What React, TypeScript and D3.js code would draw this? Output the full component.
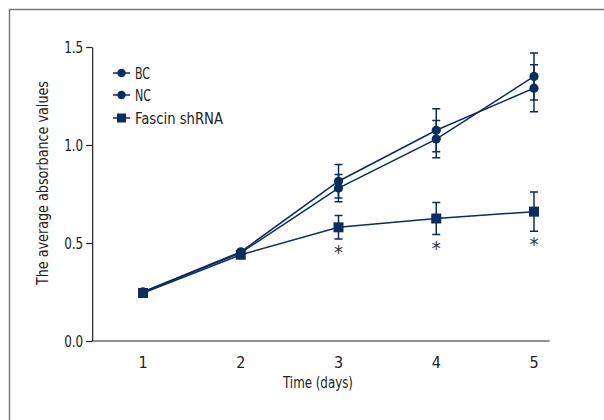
import React, { useEffect, useRef } from 'react';
import * as d3 from 'd3';

// Data
const days = [1, 2, 3, 4, 5];
const bcMean = [0.25, 0.455, 0.815, 1.075, 1.29];
const bcErr = [0, 0, 0.085, 0.11, 0.12];
const ncMean = [0.25, 0.45, 0.78, 1.03, 1.35];
const ncErr = [0, 0, 0.07, 0.095, 0.12];
const shMean = [0.245, 0.44, 0.58, 0.625, 0.66];
const shErr = [0, 0, 0.06, 0.082, 0.1];
const sigDays = [3, 4, 5];
const yTicks = [0, 0.5, 1.0, 1.5];
const legendNames = ['BC', 'NC', 'Fascin shRNA'];
const legendWidths = [15, 16, 88];

const NAVY = '#0b2c5e';
const FONT = "'DejaVu Sans Condensed', 'Liberation Sans', sans-serif";

function App() {
  const chartRef = useRef<HTMLDivElement>(null);

  useEffect(() => {
    document.body.style.margin = '0';
    const width = 604;
    const height = 420;

    d3.select(chartRef.current).select('svg').remove();

    const svg = d3
      .select(chartRef.current)
      .append('svg')
      .attr('width', width)
      .attr('height', height)
      .style('display', 'block')
      .style('background', '#fff');

    // frame (only left and top visible)
    svg.append('path')
      .attr('d', `M9.5,${height} V9.5 H${width}`)
      .attr('fill', 'none')
      .attr('stroke', '#777')
      .attr('stroke-width', 1.5);

    const x = d3.scaleLinear().domain([1, 5]).range([143, 534]);
    const y = d3.scaleLinear().domain([0, 1.5]).range([341, 47]);
    const x0 = x(0.48);
    const x1 = x(5.16);

    // y axis
    const yAxis = svg.append('g')
      .attr('transform', `translate(${x0},0)`)
      .call(d3.axisLeft(y).tickValues(yTicks).tickFormat(d3.format('.1f')).tickSize(6).tickSizeOuter(0));
    yAxis.select('.domain').attr('stroke', '#222').attr('stroke-width', 1.2);
    yAxis.selectAll('.tick line').attr('stroke', '#222').attr('stroke-width', 1.2);
    yAxis.selectAll('.tick text')
      .attr('font-family', FONT)
      .attr('font-size', 16)
      .attr('fill', '#222')
      .attr('x', -9)
      .attr('textLength', 19)
      .attr('lengthAdjust', 'spacingAndGlyphs');

    // x axis (no ticks)
    svg.append('line')
      .attr('x1', x0).attr('x2', x1)
      .attr('y1', y(0)).attr('y2', y(0))
      .attr('stroke', '#222').attr('stroke-width', 1.2);
    svg.append('g').selectAll('text')
      .data(days)
      .join('text')
      .attr('x', (d) => x(d))
      .attr('y', y(0) + 27)
      .attr('text-anchor', 'middle')
      .attr('font-family', FONT)
      .attr('font-size', 16)
      .attr('fill', '#222')
      .text((d) => d);

    // axis titles
    svg.append('text')
      .attr('x', 318)
      .attr('y', 388)
      .attr('text-anchor', 'middle')
      .attr('font-family', FONT)
      .attr('font-size', 16)
      .attr('fill', '#222')
      .attr('textLength', 70)
      .attr('lengthAdjust', 'spacingAndGlyphs')
      .text('Time (days)');
    svg.append('text')
      .attr('transform', `translate(48,183) rotate(-90)`)
      .attr('text-anchor', 'middle')
      .attr('font-family', FONT)
      .attr('font-size', 16)
      .attr('fill', '#222')
      .attr('textLength', 204)
      .attr('lengthAdjust', 'spacingAndGlyphs')
      .text('The average absorbance values');

    const series = [
      { mean: bcMean, err: bcErr, shape: 'circle' },
      { mean: ncMean, err: ncErr, shape: 'circle' },
      { mean: shMean, err: shErr, shape: 'square' },
    ];

    const line = d3.line<number>()
      .x((_, i) => x(days[i]))
      .y((d) => y(d));

    series.forEach((s) => {
      // error bars
      const g = svg.append('g');
      days.forEach((d, i) => {
        if (!s.err[i]) return;
        const cx = x(d);
        const top = y(s.mean[i] + s.err[i]);
        const bot = y(s.mean[i] - s.err[i]);
        g.append('path')
          .attr('d', `M${cx},${top} V${bot} M${cx - 4},${top} H${cx + 4} M${cx - 4},${bot} H${cx + 4}`)
          .attr('stroke', NAVY)
          .attr('stroke-width', 1.5)
          .attr('fill', 'none');
      });

      svg.append('path')
        .datum(s.mean)
        .attr('fill', 'none')
        .attr('stroke', NAVY)
        .attr('stroke-width', 1.5)
        .attr('d', line);

      s.mean.forEach((v, i) => {
        if (s.shape === 'circle') {
          svg.append('circle')
            .attr('cx', x(days[i]))
            .attr('cy', y(v))
            .attr('r', 4.6)
            .attr('fill', NAVY);
        } else {
          svg.append('rect')
            .attr('x', x(days[i]) - 5)
            .attr('y', y(v) - 5)
            .attr('width', 10)
            .attr('height', 10)
            .attr('fill', NAVY);
        }
      });
    });

    // significance asterisks
    svg.append('g').selectAll('text')
      .data(sigDays)
      .join('text')
      .attr('x', (d) => x(d))
      .attr('y', (d) => {
        const i = days.indexOf(d);
        return y(shMean[i] - shErr[i]) + 20;
      })
      .attr('text-anchor', 'middle')
      .attr('font-family', FONT)
      .attr('font-size', 20)
      .attr('fill', '#333')
      .text('*');

    // legend
    const legendY = [73, 95, 118];
    const legend = svg.append('g');
    legendNames.forEach((name, i) => {
      const ly = legendY[i];
      legend.append('line')
        .attr('x1', 113).attr('x2', 130)
        .attr('y1', ly).attr('y2', ly)
        .attr('stroke', NAVY).attr('stroke-width', 1.5);
      if (i < 2) {
        legend.append('circle').attr('cx', 121.5).attr('cy', ly).attr('r', 4.2).attr('fill', NAVY);
      } else {
        legend.append('rect').attr('x', 117).attr('y', ly - 4.5).attr('width', 9).attr('height', 9).attr('fill', NAVY);
      }
      legend.append('text')
        .attr('x', 135)
        .attr('y', ly + 6)
        .attr('font-family', FONT)
        .attr('font-size', 16)
        .attr('fill', '#222')
        .attr('textLength', legendWidths[i])
        .attr('lengthAdjust', 'spacingAndGlyphs')
        .text(name);
    });
  }, []);

  return <div ref={chartRef}></div>;
}

export default App;
